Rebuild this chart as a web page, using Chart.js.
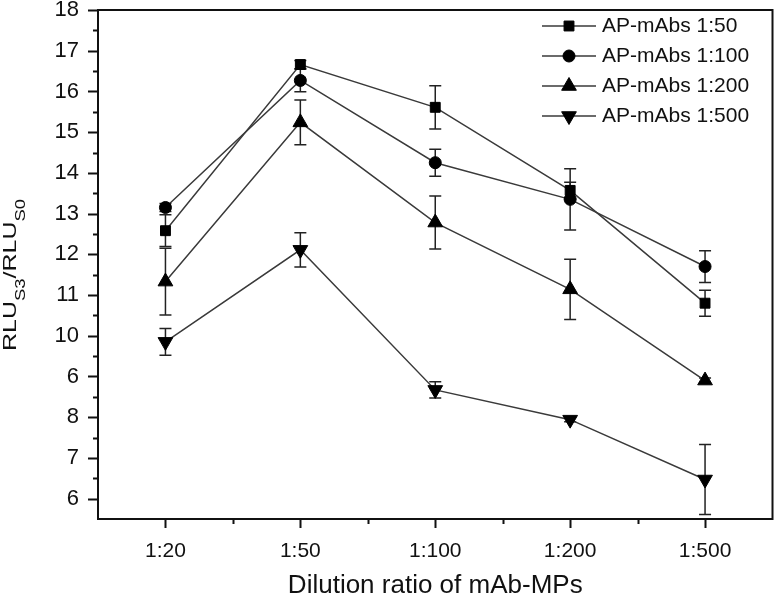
<!DOCTYPE html>
<html>
<head>
<meta charset="utf-8">
<script src="https://cdn.jsdelivr.net/npm/chart.js@4.4.0/dist/chart.umd.min.js"></script>
<style>
  html, body { margin: 0; padding: 0; background: #fff; }
</style>
</head>
<body>
<canvas id="chart" width="782" height="612"></canvas>
<script>
var labels = ['1:20', '1:50', '1:100', '1:200', '1:500'];
// tick labels as printed in the figure (the 9 is printed as "6")
var yTickLabels = ['6', '7', '8', '6', '10', '11', '12', '13', '14', '15', '16', '17', '18'];

var names = ['AP-mAbs 1:50', 'AP-mAbs 1:100', 'AP-mAbs 1:200', 'AP-mAbs 1:500'];
var s50 = [12.58, 16.66, 15.61, 13.57, 10.80];
var e50 = [0.39, 0.10, 0.53, 0.20, 0.32];
var s100 = [13.15, 16.27, 14.25, 13.35, 11.70];
var e100 = [0.10, 0.28, 0.33, 0.75, 0.39];
var s200 = [11.33, 15.24, 12.78, 11.14, 8.90];
var e200 = [0.82, 0.55, 0.65, 0.74, 0.06];
var s500 = [9.85, 12.11, 8.67, 7.94, 6.47];
var e500 = [0.33, 0.42, 0.20, 0.05, 0.86];

var errors = [e50, e100, e200, e500];
var FONT = '"Liberation Sans", Arial, sans-serif';

function series(label, data, style, radius, rot) {
  return {
    label: label,
    data: data,
    borderColor: '#3a3a3a',
    borderWidth: 1.5,
    pointStyle: style,
    pointRadius: radius,
    pointRotation: rot || 0,
    pointBackgroundColor: '#000',
    pointBorderColor: '#000',
    pointBorderWidth: 1,
    tension: 0,
    fill: false
  };
}

// error bars, drawn under the markers
var errorBars = {
  id: 'errorBars',
  beforeDatasetsDraw: function (chart) {
    var ctx = chart.ctx, y = chart.scales.y;
    ctx.save();
    ctx.strokeStyle = '#222';
    ctx.lineWidth = 1.5;
    chart.data.datasets.forEach(function (ds, i) {
      chart.getDatasetMeta(i).data.forEach(function (pt, j) {
        var hi = y.getPixelForValue(ds.data[j] + errors[i][j]);
        var lo = y.getPixelForValue(ds.data[j] - errors[i][j]);
        ctx.beginPath();
        ctx.moveTo(pt.x, hi); ctx.lineTo(pt.x, lo);
        ctx.moveTo(pt.x - 6, hi); ctx.lineTo(pt.x + 6, hi);
        ctx.moveTo(pt.x - 6, lo); ctx.lineTo(pt.x + 6, lo);
        ctx.stroke();
      });
    });
    ctx.restore();
  }
};

// frame, tick marks, y title and legend box
var frame = {
  id: 'frame',
  afterDraw: function (chart) {
    var ctx = chart.ctx, a = chart.chartArea;
    var xs = chart.scales.x, ys = chart.scales.y;
    ctx.save();
    ctx.strokeStyle = '#111';
    ctx.lineWidth = 2;
    ctx.strokeRect(a.left, a.top, a.right - a.left, a.bottom - a.top);

    ctx.beginPath();
    for (var v = 6; v <= 18; v++) {
      var py = Math.round(ys.getPixelForValue(v)) + 0.5;
      ctx.moveTo(a.left - 10, py); ctx.lineTo(a.left, py);
      if (v < 18) {
        var pm = Math.round(ys.getPixelForValue(v + 0.5)) + 0.5;
        ctx.moveTo(a.left - 5, pm); ctx.lineTo(a.left, pm);
      }
    }
    for (var i = 0; i < labels.length; i++) {
      var px = Math.round(xs.getPixelForValue(i)) + 0.5;
      ctx.moveTo(px, a.bottom); ctx.lineTo(px, a.bottom + 9);
      if (i < labels.length - 1) {
        var mx = Math.round((xs.getPixelForValue(i) + xs.getPixelForValue(i + 1)) / 2) + 0.5;
        ctx.moveTo(mx, a.bottom); ctx.lineTo(mx, a.bottom + 5);
      }
    }
    ctx.stroke();

    // y axis title with subscripts
    var parts = [['RLU', 0], ['S3', 1], ['/RLU', 0], ['S0', 1]];
    ctx.fillStyle = '#111';
    ctx.textBaseline = 'alphabetic';
    var total = 0;
    parts.forEach(function (p) {
      ctx.font = (p[1] ? '14px ' : '19px ') + FONT;
      total += ctx.measureText(p[0]).width;
    });
    var sx = 152 / total;
    ctx.save();
    ctx.translate(16, 275);
    ctx.rotate(-Math.PI / 2);
    ctx.scale(sx, 1);
    var cx = -total / 2;
    parts.forEach(function (p) {
      ctx.font = (p[1] ? '14px ' : '19px ') + FONT;
      ctx.fillText(p[0], cx, p[1] ? 9 : 0);
      cx += ctx.measureText(p[0]).width;
    });
    ctx.restore();

    // legend
    chart.data.datasets.forEach(function (ds, k) {
      var ly = 26 + k * 30;
      ctx.strokeStyle = ds.borderColor;
      ctx.lineWidth = ds.borderWidth;
      ctx.beginPath(); ctx.moveTo(542, ly); ctx.lineTo(596, ly); ctx.stroke();
      ctx.fillStyle = '#000';
      ctx.strokeStyle = '#000';
      ctx.lineWidth = 1;
      Chart.helpers.drawPoint(ctx, {
        pointStyle: ds.pointStyle, radius: ds.pointRadius,
        rotation: ds.pointRotation, borderWidth: 1
      }, 569, ly);
      ctx.fillStyle = '#111';
      ctx.font = '21px ' + FONT;
      ctx.textBaseline = 'middle';
      ctx.fillText(ds.label, 602, ly);
    });
    ctx.restore();
  }
};

new Chart(document.getElementById('chart'), {
  type: 'line',
  data: {
    labels: labels,
    datasets: [
      series(names[0], s50, 'rect', 7),
      series(names[1], s100, 'circle', 6),
      series(names[2], s200, 'triangle', 8.5),
      series(names[3], s500, 'triangle', 8.5, 180)
    ]
  },
  options: {
    responsive: false,
    animation: false,
    devicePixelRatio: 1,
    layout: { padding: { top: 10, right: 2, left: 0, bottom: 0 } },
    plugins: {
      legend: { display: false },
      tooltip: { enabled: false }
    },
    scales: {
      x: {
        offset: true,
        grid: { display: false, drawTicks: false },
        border: { display: false },
        ticks: { color: '#111', padding: 20, font: { family: FONT, size: 21 } },
        title: {
          display: true,
          text: 'Dilution ratio of mAb-MPs',
          color: '#111',
          font: { family: FONT, size: 26 },
          padding: { top: 0, bottom: 11 }
        },
        afterFit: function (s) { s.height = 93; s.paddingLeft = 0; s.paddingRight = 0; }
      },
      y: {
        min: 5.5,
        max: 18,
        grid: { display: false, drawTicks: false },
        border: { display: false },
        ticks: {
          stepSize: 1,
          includeBounds: false,
          color: '#111',
          padding: 19,
          font: { family: FONT, size: 22 },
          callback: function (v) { return Number.isInteger(v) ? yTickLabels[v - 6] : ''; }
        },
        afterFit: function (s) { s.width = 98; s.paddingTop = 0; s.paddingBottom = 0; }
      }
    }
  },
  plugins: [errorBars, frame]
});
</script>
</body>
</html>
